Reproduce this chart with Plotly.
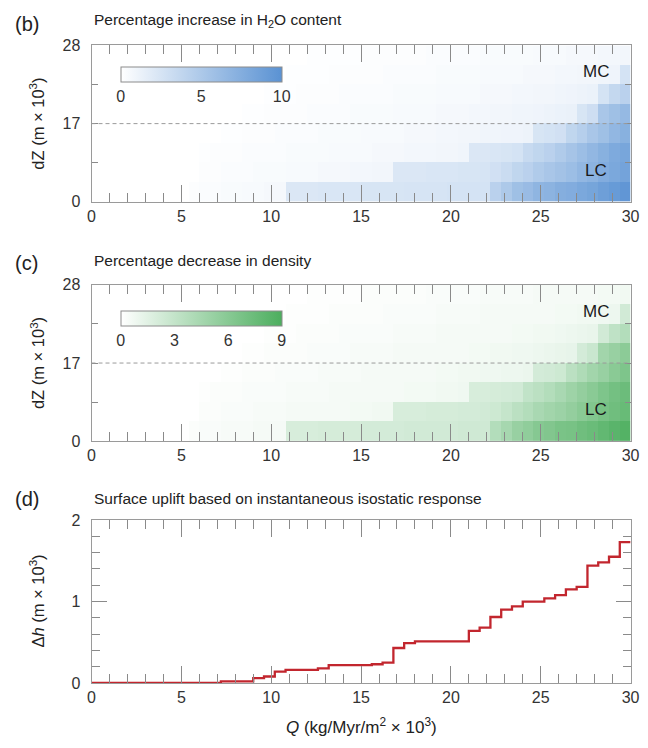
import numpy as np
import plotly.graph_objects as go

# Column edges along Q (kg/Myr/m^2 x 10^3)
Q_EDGES = [0.0, 0.6, 1.2, 1.8, 2.4, 3.0, 3.6, 4.2, 4.8, 5.4,
           6.0, 6.6, 7.2, 7.8, 8.4, 9.0, 9.6, 10.2, 10.8, 11.4,
           12.0, 12.6, 13.2, 13.8, 14.4, 15.0, 15.6, 16.2, 16.8, 17.4,
           18.0, 18.6, 19.2, 19.8, 20.4, 21.0, 21.6, 22.2, 22.8, 23.4,
           24.0, 24.6, 25.2, 25.8, 26.4, 27.0, 27.6, 28.2, 28.8, 29.4, 30.0]

# Layer boundaries in dZ (m x 10^3): four LC layers below 17, four MC layers above
LAYER_DZ = [0, 4.25, 8.5, 12.75, 17, 19.75, 22.5, 25.25, 28]
DZ_TICKS = [0, 17, 28]
MC_LC_BOUNDARY = 17

# Percentage increase in H2O content, rows from the deepest layer upward
H2O_INCREASE = [
    [0, 0, 0, 0, 0, 0, 0, 0, 0, 0.2,
     0.3, 0.3, 0.4, 0.4, 0.5, 0.5, 0.6, 0.6, 2.2, 2.2,
     2.2, 2.3, 2.3, 2.3, 2.3, 2.4, 2.4, 2.4, 2.4, 2.5,
     2.5, 2.5, 2.5, 2.6, 2.6, 2.6, 2.6, 4.2, 5.0, 5.8,
     6.2, 6.8, 7.0, 7.4, 7.6, 8.0, 8.3, 8.8, 9.2, 9.6],
    [0, 0, 0, 0, 0, 0, 0, 0, 0, 0,
     0.2, 0.2, 0.3, 0.3, 0.3, 0.4, 0.4, 0.4, 0.5, 0.5,
     0.5, 0.6, 0.6, 0.6, 0.7, 0.7, 0.8, 0.8, 2.2, 2.2,
     2.2, 2.3, 2.3, 2.3, 2.4, 2.4, 2.5, 2.8, 3.2, 3.8,
     4.2, 4.8, 5.2, 5.6, 6.0, 6.6, 7.0, 7.6, 8.0, 8.4],
    [0, 0, 0, 0, 0, 0, 0, 0, 0, 0,
     0.1, 0.2, 0.2, 0.2, 0.3, 0.3, 0.3, 0.3, 0.4, 0.4,
     0.4, 0.4, 0.5, 0.5, 0.5, 0.5, 0.6, 0.6, 0.6, 0.7,
     0.7, 0.7, 0.8, 0.8, 0.9, 2.2, 2.2, 2.3, 2.4, 2.6,
     3.4, 3.8, 4.2, 4.8, 5.4, 6.0, 6.6, 7.2, 7.8, 8.2],
    [0, 0, 0, 0, 0, 0, 0, 0, 0, 0,
     0, 0, 0.1, 0.1, 0.2, 0.2, 0.2, 0.3, 0.3, 0.3,
     0.3, 0.4, 0.4, 0.4, 0.4, 0.5, 0.5, 0.5, 0.5, 0.6,
     0.6, 0.6, 0.7, 0.7, 0.8, 0.8, 0.9, 0.9, 1.0, 1.0,
     1.1, 2.4, 2.6, 2.8, 3.8, 4.4, 5.2, 5.8, 6.6, 7.2],
    [0, 0, 0, 0, 0, 0, 0, 0, 0, 0,
     0, 0, 0, 0, 0.1, 0.1, 0.2, 0.2, 0.2, 0.2,
     0.3, 0.3, 0.3, 0.3, 0.4, 0.4, 0.4, 0.4, 0.5, 0.5,
     0.5, 0.5, 0.6, 0.6, 0.6, 0.7, 0.7, 0.8, 0.8, 0.9,
     0.9, 1.0, 1.1, 1.2, 1.3, 2.4, 3.0, 5.2, 5.8, 6.4],
    [0, 0, 0, 0, 0, 0, 0, 0, 0, 0,
     0, 0, 0, 0, 0, 0, 0.1, 0.1, 0.1, 0.2,
     0.2, 0.2, 0.2, 0.3, 0.3, 0.3, 0.3, 0.3, 0.4, 0.4,
     0.4, 0.4, 0.5, 0.5, 0.5, 0.5, 0.6, 0.6, 0.6, 0.7,
     0.7, 0.8, 0.8, 0.9, 1.0, 1.1, 1.2, 2.6, 3.6, 4.2],
    [0, 0, 0, 0, 0, 0, 0, 0, 0, 0,
     0, 0, 0, 0, 0, 0, 0, 0, 0.1, 0.1,
     0.1, 0.1, 0.2, 0.2, 0.2, 0.2, 0.2, 0.3, 0.3, 0.3,
     0.3, 0.3, 0.4, 0.4, 0.4, 0.4, 0.5, 0.5, 0.5, 0.5,
     0.6, 0.6, 0.6, 0.7, 0.7, 0.8, 0.8, 0.9, 1.0, 2.6],
    [0, 0, 0, 0, 0, 0, 0, 0, 0, 0,
     0, 0, 0, 0, 0, 0, 0, 0, 0, 0,
     0.1, 0.1, 0.1, 0.1, 0.1, 0.2, 0.2, 0.2, 0.2, 0.2,
     0.2, 0.3, 0.3, 0.3, 0.3, 0.3, 0.4, 0.4, 0.4, 0.4,
     0.4, 0.5, 0.5, 0.5, 0.6, 0.6, 0.6, 0.7, 0.7, 0.8],
]

# Percentage decrease in density, same layer order
DENSITY_DECREASE = [
    [0, 0, 0, 0, 0, 0, 0, 0, 0, 0.2,
     0.3, 0.3, 0.4, 0.4, 0.4, 0.5, 0.5, 0.5, 2.0, 2.0,
     2.0, 2.1, 2.1, 2.1, 2.1, 2.2, 2.2, 2.2, 2.2, 2.3,
     2.3, 2.3, 2.3, 2.3, 2.4, 2.4, 2.4, 3.8, 4.5, 5.2,
     5.6, 6.1, 6.3, 6.7, 6.8, 7.2, 7.5, 7.9, 8.3, 8.6],
    [0, 0, 0, 0, 0, 0, 0, 0, 0, 0,
     0.2, 0.2, 0.3, 0.3, 0.3, 0.4, 0.4, 0.4, 0.5, 0.5,
     0.5, 0.5, 0.5, 0.5, 0.6, 0.6, 0.7, 0.7, 2.0, 2.0,
     2.0, 2.1, 2.1, 2.1, 2.2, 2.2, 2.3, 2.5, 2.9, 3.4,
     3.8, 4.3, 4.7, 5.0, 5.4, 5.9, 6.3, 6.8, 7.2, 7.6],
    [0, 0, 0, 0, 0, 0, 0, 0, 0, 0,
     0.1, 0.2, 0.2, 0.2, 0.3, 0.3, 0.3, 0.3, 0.4, 0.4,
     0.4, 0.4, 0.5, 0.5, 0.5, 0.5, 0.5, 0.5, 0.5, 0.6,
     0.6, 0.6, 0.7, 0.7, 0.8, 2.0, 2.0, 2.1, 2.2, 2.3,
     3.1, 3.4, 3.8, 4.3, 4.9, 5.4, 5.9, 6.5, 7.0, 7.4],
    [0, 0, 0, 0, 0, 0, 0, 0, 0, 0,
     0, 0, 0.1, 0.1, 0.2, 0.2, 0.2, 0.3, 0.3, 0.3,
     0.3, 0.4, 0.4, 0.4, 0.4, 0.5, 0.5, 0.5, 0.5, 0.5,
     0.5, 0.5, 0.6, 0.6, 0.7, 0.7, 0.8, 0.8, 0.9, 0.9,
     1.0, 2.2, 2.3, 2.5, 3.4, 4.0, 4.7, 5.2, 5.9, 6.5],
    [0, 0, 0, 0, 0, 0, 0, 0, 0, 0,
     0, 0, 0, 0, 0.1, 0.1, 0.2, 0.2, 0.2, 0.2,
     0.3, 0.3, 0.3, 0.3, 0.4, 0.4, 0.4, 0.4, 0.5, 0.5,
     0.5, 0.5, 0.5, 0.5, 0.5, 0.6, 0.6, 0.7, 0.7, 0.8,
     0.8, 0.9, 1.0, 1.1, 1.2, 2.2, 2.7, 4.7, 5.2, 5.8],
    [0, 0, 0, 0, 0, 0, 0, 0, 0, 0,
     0, 0, 0, 0, 0, 0, 0.1, 0.1, 0.1, 0.2,
     0.2, 0.2, 0.2, 0.3, 0.3, 0.3, 0.3, 0.3, 0.4, 0.4,
     0.4, 0.4, 0.5, 0.5, 0.5, 0.5, 0.5, 0.5, 0.5, 0.6,
     0.6, 0.7, 0.7, 0.8, 0.9, 1.0, 1.1, 2.3, 3.2, 3.8],
    [0, 0, 0, 0, 0, 0, 0, 0, 0, 0,
     0, 0, 0, 0, 0, 0, 0, 0, 0.1, 0.1,
     0.1, 0.1, 0.2, 0.2, 0.2, 0.2, 0.2, 0.3, 0.3, 0.3,
     0.3, 0.3, 0.4, 0.4, 0.4, 0.4, 0.5, 0.5, 0.5, 0.5,
     0.5, 0.5, 0.5, 0.6, 0.6, 0.7, 0.7, 0.8, 0.9, 2.3],
    [0, 0, 0, 0, 0, 0, 0, 0, 0, 0,
     0, 0, 0, 0, 0, 0, 0, 0, 0, 0,
     0.1, 0.1, 0.1, 0.1, 0.1, 0.2, 0.2, 0.2, 0.2, 0.2,
     0.2, 0.3, 0.3, 0.3, 0.3, 0.3, 0.4, 0.4, 0.4, 0.4,
     0.4, 0.5, 0.5, 0.5, 0.5, 0.5, 0.5, 0.6, 0.6, 0.7],
]

# Surface uplift (m x 10^3) for each Q column
UPLIFT = [0, 0, 0, 0, 0, 0, 0, 0, 0, 0,
          0, 0, 0.02, 0.02, 0.02, 0.06, 0.08, 0.14, 0.16, 0.16,
          0.16, 0.18, 0.22, 0.22, 0.22, 0.22, 0.23, 0.25, 0.43, 0.49,
          0.51, 0.51, 0.51, 0.51, 0.51, 0.64, 0.68, 0.81, 0.90, 0.94,
          1.00, 1.00, 1.04, 1.08, 1.15, 1.18, 1.44, 1.48, 1.55, 1.73]

FONT = "Liberation Sans, Arial, sans-serif"
FRAME = "#9a9a9a"
TICK_TXT = "#333333"
W, H = 648, 748

layer_pos = list(range(len(LAYER_DZ)))


def dz_pos(v):
    return float(np.interp(v, LAYER_DZ, layer_pos))


def px_x(px):
    return px / W


def px_y(py):
    return 1 - py / H


x_dom = [px_x(89.3), px_x(639.4)]
dom_b = [px_y(198.3), px_y(38.3)]
dom_c = [px_y(443.3), px_y(283.3)]
dom_d = [px_y(690.7), px_y(524.0)]

fig = go.Figure()


def heat(z, xa, ya, colors, zmax, cb_top_px, cb_ticks):
    fig.add_trace(go.Heatmap(
        z=z, x=Q_EDGES, y=layer_pos, xaxis=xa, yaxis=ya,
        zmin=0, zmax=zmax,
        colorscale=[[0, "#ffffff"], [1, colors]],
        hoverinfo="skip",
        colorbar=dict(
            orientation="h",
            x=px_x((119.3 + 283.3) / 2), xanchor="center",
            y=px_y(cb_top_px), yanchor="top",
            len=164 / W, lenmode="fraction",
            thickness=15, thicknessmode="pixels",
            xpad=0, ypad=0,
            outlinecolor="#8c8c8c", outlinewidth=1,
            tickvals=cb_ticks, ticks="",
            tickfont=dict(family=FONT, size=16, color=TICK_TXT),
        ),
    ))


heat(H2O_INCREASE, "x", "y", "#5a92d3", 10, 60.5, [0, 5, 10])
heat(DENSITY_DECREASE, "x2", "y2", "#4cae5e", 9, 310.5, [0, 3, 6, 9])

fig.add_trace(go.Scatter(
    x=Q_EDGES, y=UPLIFT + [UPLIFT[-1]], xaxis="x3", yaxis="y3",
    mode="lines", line=dict(color="#c2262e", width=2.3, shape="hv"),
    hoverinfo="skip", showlegend=False,
))


def xaxis(anchor):
    return dict(
        domain=x_dom, anchor=anchor, range=[0, 30],
        showline=True, linecolor=FRAME, linewidth=1, mirror="allticks",
        ticks="inside", ticklen=17, tickwidth=1, tickcolor="#8a8a8a",
        tick0=0, dtick=5, ticklabeloverflow="allow",
        minor=dict(dtick=1, ticks="inside", ticklen=9, tickcolor="#8a8a8a", tickwidth=1),
        showgrid=False, zeroline=False,
        tickfont=dict(family=FONT, size=16, color=TICK_TXT),
    )


def dz_axis(anchor, dom):
    return dict(
        domain=dom, anchor=anchor, range=[0, layer_pos[-1]],
        showline=True, linecolor=FRAME, linewidth=1, mirror="allticks",
        ticks="inside", ticklen=6, tickcolor="#8a8a8a",
        tickvals=[dz_pos(v) for v in DZ_TICKS] + [dz_pos(8.5), dz_pos(22.5)],
        ticktext=[str(v) for v in DZ_TICKS] + ["", ""],
        ticklabelstandoff=7,
        showgrid=False, zeroline=False,
        tickfont=dict(family=FONT, size=16, color=TICK_TXT),
    )


fig.update_layout(
    width=W, height=H, margin=dict(l=0, r=0, t=0, b=0),
    paper_bgcolor="white", plot_bgcolor="white", showlegend=False,
    xaxis=xaxis("y"), xaxis2=xaxis("y2"), xaxis3=xaxis("y3"),
    yaxis=dz_axis("x", dom_b), yaxis2=dz_axis("x2", dom_c),
    yaxis3=dict(
        domain=dom_d, anchor="x3", range=[0, 2],
        showline=True, linecolor=FRAME, linewidth=1, mirror="allticks",
        ticks="inside", ticklen=15, tickcolor="#8a8a8a", tick0=0, dtick=1,
        minor=dict(dtick=0.2, ticks="inside", ticklen=8, tickcolor="#8a8a8a"),
        ticklabelstandoff=7,
        showgrid=False, zeroline=False,
        tickfont=dict(family=FONT, size=16, color=TICK_TXT),
    ),
)

# MC / LC boundary
for xa, ya in (("x", "y"), ("x2", "y2")):
    fig.add_shape(type="line", xref=xa, yref=ya, x0=0, x1=30,
                  y0=dz_pos(MC_LC_BOUNDARY), y1=dz_pos(MC_LC_BOUNDARY),
                  line=dict(color="#9a9a9a", width=1, dash="4px,3px"), layer="above")
    for txt, yv in (("MC", 24.3), ("LC", 6.8)):
        fig.add_annotation(x=28.1, y=dz_pos(yv), xref=xa, yref=ya, text=txt,
                           showarrow=False,
                           font=dict(family=FONT, size=17, color="#1a1a1a"))

ann = []


def label(text, xp, yp, size, angle=0, xanchor="center", color="#222222"):
    ann.append(dict(text=text, x=px_x(xp), y=px_y(yp), xref="paper", yref="paper",
                    showarrow=False, textangle=angle, xanchor=xanchor, yanchor="middle",
                    font=dict(family=FONT, size=size, color=color)))


label("(b)", 23, 16, 20)
label("Percentage increase in H<sub>2</sub>O content", 90, 13, 15.5, xanchor="left")
label("(c)", 23, 261, 20)
label("Percentage decrease in density", 90, 258, 15.5, xanchor="left")
label("(d)", 23, 502, 20)
label("Surface uplift based on instantaneous isostatic response", 90, 502, 15.5, xanchor="left")
label("dZ (m × 10<sup>3</sup>)", 34, 118, 16.5, angle=-90)
label("dZ (m × 10<sup>3</sup>)", 34, 363, 16.5, angle=-90)
label("Δ<i>h</i> (m × 10<sup>3</sup>)", 34, 607, 16.5, angle=-90)
label("<i>Q</i> (kg/Myr/m<sup>2</sup> × 10<sup>3</sup>)", 365, 735, 17)

for a in ann:
    fig.add_annotation(**a)

fig.write_html("out.html")
